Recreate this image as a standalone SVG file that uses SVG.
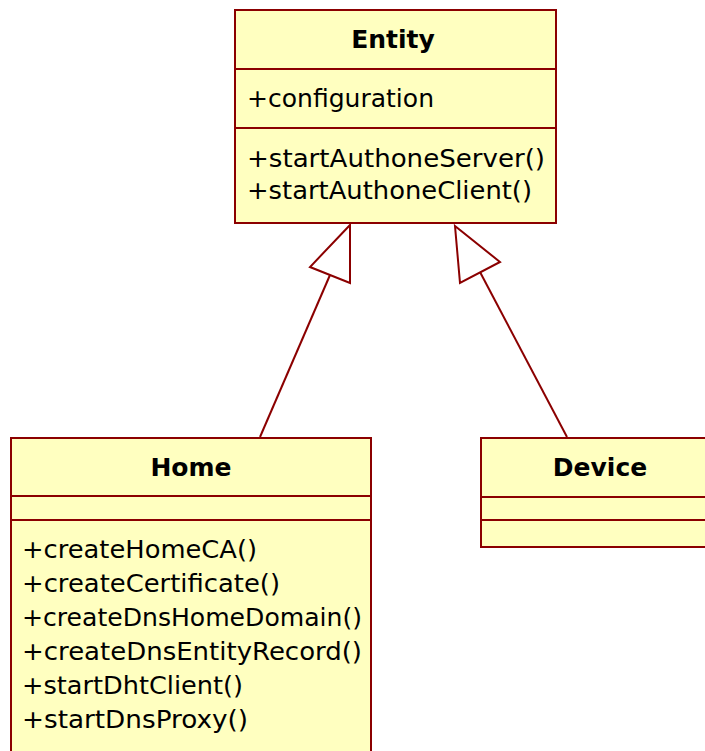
<svg xmlns="http://www.w3.org/2000/svg" width="705" height="751" viewBox="0 0 705 751">
<style>
.box{fill:#FFFFC0;stroke:#8B0000;stroke-width:2}
.div{stroke:#8B0000;stroke-width:2}
.t{font-family:"DejaVu Sans",Verdana,sans-serif;font-size:25.5px;fill:#000}
.b{font-family:"DejaVu Sans",Verdana,sans-serif;font-size:25px;font-weight:bold;fill:#000;text-anchor:middle}
.c{fill:none;stroke:#8B0000;stroke-width:2}
.h{fill:#fff;stroke:#8B0000;stroke-width:2;stroke-linejoin:miter}
</style>
<rect width="705" height="751" fill="#fff"/>
<g id="connectors">
<line class="c" x1="330" y1="275" x2="260" y2="437"/>
<polygon class="h" points="350,225 310,267 350,283"/>
<line class="c" x1="480" y1="272" x2="567" y2="437"/>
<polygon class="h" points="455,226 500,262 460,283"/>
</g>
<g id="Entity">
<rect class="box" x="235" y="10" width="321" height="213"/>
<line class="div" x1="235" y1="69" x2="556" y2="69"/>
<line class="div" x1="235" y1="128" x2="556" y2="128"/>
<text class="b" x="393" y="48">Entity</text>
<text class="t" x="247" y="107" textLength="187" lengthAdjust="spacingAndGlyphs">+configuration</text>
<text class="t" x="247" y="167" textLength="298" lengthAdjust="spacingAndGlyphs">+startAuthoneServer()</text>
<text class="t" x="247" y="199" textLength="285" lengthAdjust="spacingAndGlyphs">+startAuthoneClient()</text>
</g>
<g id="Home">
<rect class="box" x="11" y="438" width="360" height="330"/>
<line class="div" x1="11" y1="496" x2="371" y2="496"/>
<line class="div" x1="11" y1="520" x2="371" y2="520"/>
<text class="b" x="191" y="476">Home</text>
<text class="t" x="22" y="558" textLength="235" lengthAdjust="spacingAndGlyphs">+createHomeCA()</text>
<text class="t" x="22" y="592" textLength="258" lengthAdjust="spacingAndGlyphs">+createCertificate()</text>
<text class="t" x="22" y="626" textLength="340" lengthAdjust="spacingAndGlyphs">+createDnsHomeDomain()</text>
<text class="t" x="22" y="660" textLength="340" lengthAdjust="spacingAndGlyphs">+createDnsEntityRecord()</text>
<text class="t" x="22" y="694" textLength="221" lengthAdjust="spacingAndGlyphs">+startDhtClient()</text>
<text class="t" x="22" y="728" textLength="226" lengthAdjust="spacingAndGlyphs">+startDnsProxy()</text>
</g>
<g id="Device">
<rect class="box" x="481" y="438" width="238" height="109"/>
<line class="div" x1="481" y1="497" x2="719" y2="497"/>
<line class="div" x1="481" y1="520" x2="719" y2="520"/>
<text class="b" x="600" y="476">Device</text>
</g>
</svg>
